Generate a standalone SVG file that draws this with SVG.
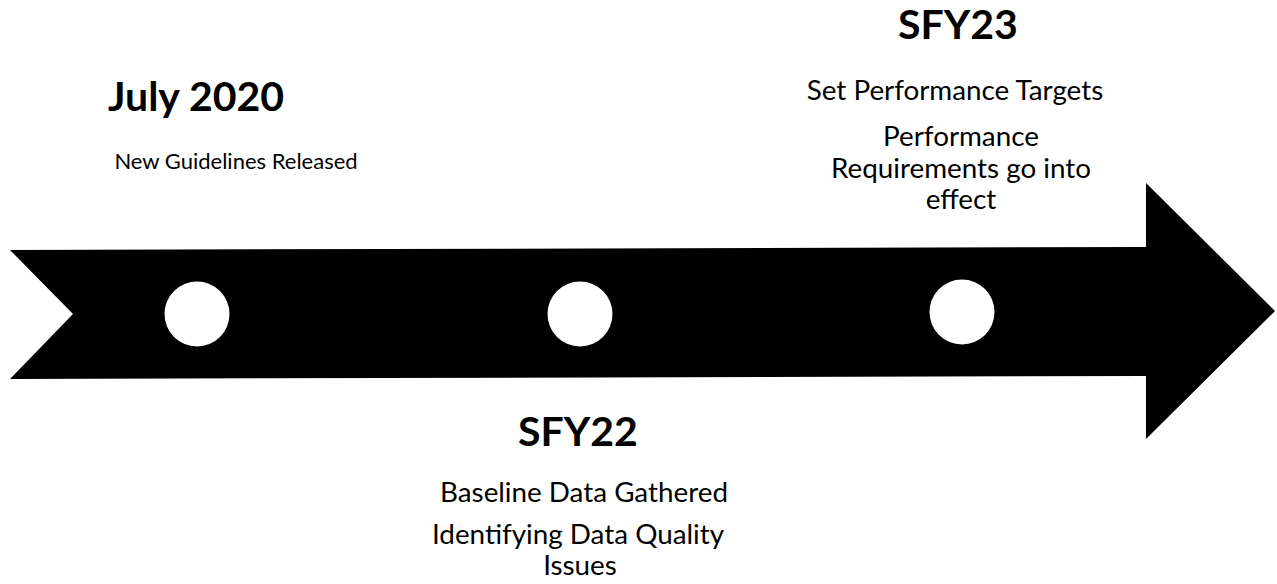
<svg xmlns="http://www.w3.org/2000/svg" width="1277" height="584" viewBox="0 0 1277 584">
<style>
.t{font-family:Lato,"Liberation Sans",sans-serif;fill:#000;text-anchor:middle}
.h{font-weight:bold;font-size:41px}
.b{font-size:22px}
.c{font-size:27.8px}
.dot{fill:#fff}
</style>
<rect width="1277" height="584" fill="#fff"/>
<g id="connectors">
<polygon points="10,250 1146,247 1146,183 1275,311 1146,439 1146,376 10,379 73,314" fill="#000"/>
</g>
<g id="node-july2020">
<circle class="dot" cx="197" cy="314" r="32.5"/>
<text class="t h" x="196" y="111">July 2020</text>
<text class="t b" x="236" y="169">New Guidelines Released</text>
</g>
<g id="node-sfy22">
<circle class="dot" cx="580" cy="314" r="32.5"/>
<text class="t h" x="578" y="446">SFY22</text>
<text class="t c" x="584" y="502">Baseline Data Gathered</text>
<text class="t c" x="578" y="544">Identifying Data Quality</text>
<text class="t c" x="580" y="575">Issues</text>
</g>
<g id="node-sfy23">
<circle class="dot" cx="962" cy="312" r="32.5"/>
<text class="t h" x="958" y="39">SFY23</text>
<text class="t c" x="955" y="100">Set Performance Targets</text>
<text class="t c" x="961" y="146">Performance</text>
<text class="t c" x="961" y="178">Requirements go into</text>
<text class="t c" x="961" y="209">effect</text>
</g>
</svg>
